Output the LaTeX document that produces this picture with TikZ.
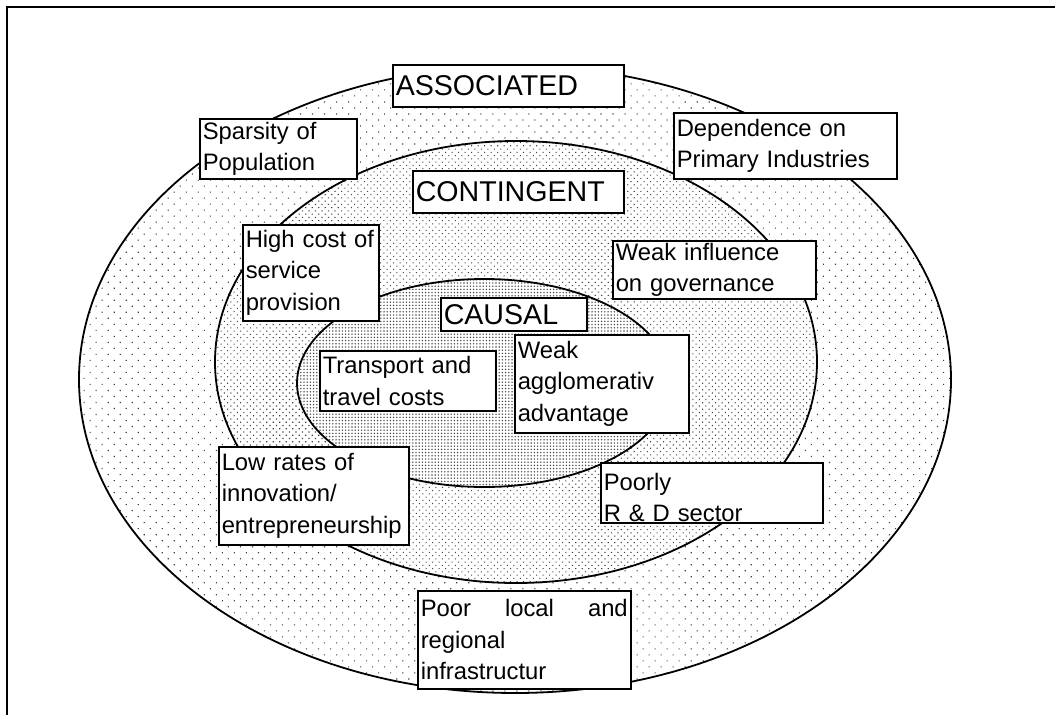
\documentclass[tikz,border=0pt]{standalone}
\usepackage{fontspec}
\setmainfont{Liberation Sans}
\usetikzlibrary{patterns.meta}
\begin{document}
\begin{tikzpicture}[x=1pt,y=-1pt,
  tbox/.style={draw=black, line width=1.5pt, fill=white, anchor=north west,
    inner xsep=3pt, inner ysep=0pt, align=left,
    font=\fontsize{23.8}{31.5}\selectfont},
  bigbox/.style={tbox, font=\fontsize{28.6}{34}\selectfont},
  ring/.style={draw=black, line width=1.8pt}]
\useasboundingbox (0,0) rectangle (1055,715);
% frame
\draw[line width=2pt] (7,715) -- (7,7) -- (1055,7);
% outer ellipse
\fill[white] (515,379.5) ellipse [x radius=436pt, y radius=313.5pt];
\fill[pattern={Dots[distance=8.5pt, angle=45, radius=0.8pt]}, pattern color=black!75] (515,379.5) ellipse [x radius=436pt, y radius=313.5pt];
\draw[ring] (515,379.5) ellipse [x radius=436pt, y radius=313.5pt];
% middle ellipse
\fill[white] (516,362) ellipse [x radius=301pt, y radius=221pt];
\fill[pattern={Dots[distance=4.6pt, angle=45, radius=0.75pt]}, pattern color=black!75] (516,362) ellipse [x radius=301pt, y radius=221pt];
\draw[ring] (516,362) ellipse [x radius=301pt, y radius=221pt];
% inner ellipse
\fill[white] (484,383) ellipse [x radius=187pt, y radius=104pt];
\fill[pattern={Dots[distance=3.2pt, angle=0, radius=0.8pt]}, pattern color=black!70] (484,383) ellipse [x radius=187pt, y radius=104pt];
\draw[ring] (484,383) ellipse [x radius=187pt, y radius=104pt];
% labels
\node[bigbox, minimum width=231pt, minimum height=42pt, text width=225pt] (assoc) at (392,64) {ASSOCIATED};
\node[bigbox, minimum width=211pt, minimum height=42pt, text width=205pt] (conting) at (412,170) {CONTINGENT};
\node[bigbox, minimum width=146pt, minimum height=33pt, text width=140pt] (causal) at (440,297) {CAUSAL};
% boxes
\node[tbox, minimum width=157pt, minimum height=60pt, text width=151pt] (spars) at (199,118) {Sparsity of\\Population};
\node[tbox, minimum width=223pt, minimum height=66pt, text width=217pt] (dep) at (673,112) {Dependence on\\Primary Industries};
\node[tbox, minimum width=136pt, minimum height=96pt, text width=130pt] (high) at (242,224) {High cost of\\service\\provision};
\node[tbox, minimum width=203pt, minimum height=58pt, text width=197pt] (weakinf) at (612,240) {Weak influence\\on governance};
\node[tbox, minimum width=176pt, minimum height=60pt, text width=170pt] (transp) at (319,350) {Transport and\\travel costs};
\node[tbox, minimum width=174pt, minimum height=98pt, text width=168pt] (agglo) at (514,334) {Weak\\agglomerativ\\advantage};
\node[tbox, minimum width=190pt, minimum height=98pt, text width=184pt] (low) at (218,446) {Low rates of\\innovation/\\entrepreneurship};
\node[tbox, minimum width=222pt, minimum height=60pt, text width=216pt] (rd) at (600,462) {\rule{0pt}{27pt}Poorly\\R \& D sector};
\node[tbox, minimum width=213pt, minimum height=98pt, text width=207pt] (infra) at (417,590) {Poor\hfill local\hfill and\\regional\\infrastructur};
\end{tikzpicture}
\end{document}
